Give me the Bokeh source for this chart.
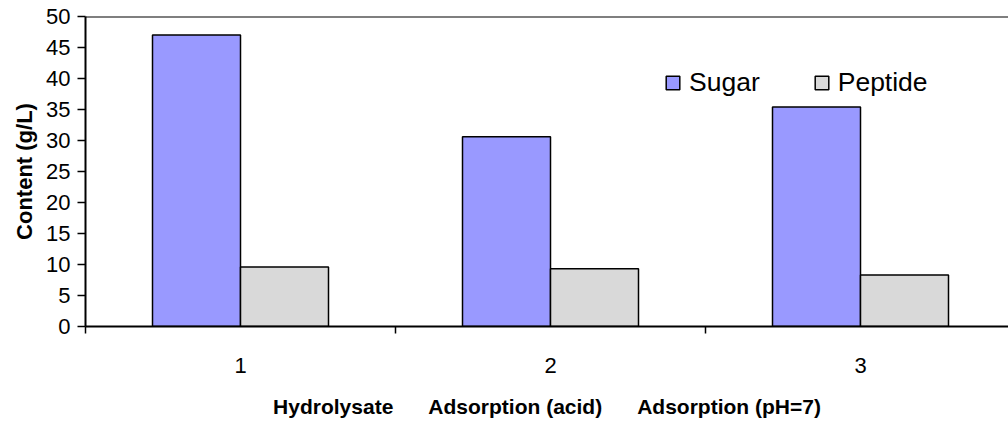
from bokeh.plotting import figure
from bokeh.models import (Range1d, FixedTicker, Span, Legend, LegendItem,
                          ColumnDataSource)
from bokeh.transform import dodge
from bokeh.embed import file_html
from bokeh.resources import INLINE

# ---- data ----
groups = [1, 2, 3]
group_names = ["Hydrolysate", "Adsorption (acid)", "Adsorption (pH=7)"]
series = ["Sugar", "Peptide"]
sugar = [47.0, 30.6, 35.4]
peptide = [9.6, 9.3, 8.3]
y_ticks = [0, 5, 10, 15, 20, 25, 30, 35, 40, 45, 50]
x_boundaries = [0.5, 1.5, 2.5, 3.5]

FONT = "Liberation Sans"
src = ColumnDataSource(dict(x=groups, sugar=sugar, peptide=peptide))

LEFT, TOP, BOTTOM = 85, 16, 95
W, H = 1008, 421
cat_px = 310.0
x_end = 0.5 + (W - LEFT) / cat_px

p = figure(width=W, height=H, output_backend="svg", toolbar_location=None,
           x_range=Range1d(0.5, x_end), y_range=Range1d(0, 50),
           min_border_left=LEFT, min_border_right=0, min_border_top=TOP,
           min_border_bottom=BOTTOM)
p.outline_line_color = None
p.grid.visible = False
p.background_fill_color = "white"
p.border_fill_color = "white"

bw = 88 / cat_px
r1 = p.vbar(x=dodge("x", -bw / 2, range=p.x_range), top="sugar", width=bw,
            source=src, fill_color="#9999FF", line_color="black", line_width=1.5)
r2 = p.vbar(x=dodge("x", bw / 2, range=p.x_range), top="peptide", width=bw,
            source=src, fill_color="#D9D9D9", line_color="black", line_width=1.5)

p.add_layout(Span(location=50, dimension="width", line_color="black", line_width=2))

# x axis
xa = p.xaxis[0]
xa.ticker = FixedTicker(ticks=groups, minor_ticks=x_boundaries)
xa.major_tick_out = 0
xa.major_tick_in = 0
xa.minor_tick_out = 7
xa.minor_tick_in = 0
xa.minor_tick_line_width = 1.5
xa.minor_tick_line_color = "black"
xa.axis_line_width = 2
xa.axis_line_color = "black"
xa.major_label_standoff = 24
xa.major_label_text_font = FONT
xa.major_label_text_font_size = "22px"
xa.major_label_text_color = "black"
xa.axis_label = ("\u00a0" * 6).join(group_names)
xa.axis_label_text_font = FONT
xa.axis_label_text_font_style = "bold"
xa.axis_label_text_font_size = "21px"
xa.axis_label_text_color = "black"
xa.axis_label_standoff = 19

# y axis
ya = p.yaxis[0]
ya.ticker = FixedTicker(ticks=y_ticks)
ya.major_tick_out = 8
ya.major_tick_in = 0
ya.minor_tick_out = 0
ya.minor_tick_in = 0
ya.major_tick_line_width = 1.5
ya.axis_line_width = 2
ya.axis_line_color = "black"
ya.major_label_standoff = 7
ya.major_label_text_font = FONT
ya.major_label_text_font_size = "22px"
ya.major_label_text_color = "black"
ya.axis_label = "Content (g/L)"
ya.axis_label_text_font = FONT
ya.axis_label_text_font_style = "bold"
ya.axis_label_text_font_size = "22px"
ya.axis_label_text_color = "black"
ya.axis_label_standoff = 6

legend = Legend(items=[LegendItem(label=series[0], renderers=[r1]),
                       LegendItem(label=series[1], renderers=[r2])],
                orientation="horizontal", location=(579, 228),
                border_line_color=None, background_fill_alpha=0,
                padding=0, margin=0, spacing=53,
                glyph_width=17, glyph_height=17, label_standoff=8,
                label_text_font=FONT, label_text_font_size="26.5px",
                label_text_color="black")
p.add_layout(legend)

open("out.html", "w").write(file_html(p, INLINE))
